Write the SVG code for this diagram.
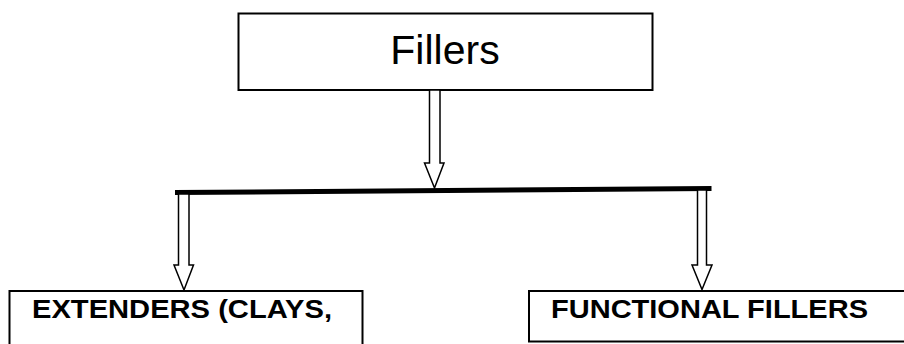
<svg xmlns="http://www.w3.org/2000/svg" width="904" height="344" viewBox="0 0 904 344">
<style>
.box{fill:#fff;stroke:#000;stroke-width:2}
.arr{fill:#fff;stroke:#000;stroke-width:1.5;stroke-linejoin:miter}
.t{font-family:"Liberation Sans",Arial,sans-serif;fill:#000}
.b{font-weight:bold;font-size:26px}
</style>
<rect width="904" height="344" fill="#fff"/>
<g id="node-fillers">
<rect class="box" x="238.5" y="13.5" width="414" height="76.5"/>
<text class="t" x="445" y="64" font-size="41" text-anchor="middle">Fillers</text>
</g>
<g id="node-extenders">
<rect class="box" x="9.5" y="291" width="353" height="70"/>
<text class="t b" x="32" y="318" textLength="300" lengthAdjust="spacingAndGlyphs">EXTENDERS (CLAYS,</text>
</g>
<g id="node-functional">
<rect class="box" x="529" y="291" width="400" height="50.5"/>
<text class="t b" x="551" y="318" textLength="317" lengthAdjust="spacingAndGlyphs">FUNCTIONAL FILLERS</text>
</g>
<g id="connectors">
<line x1="175" y1="192.5" x2="711.5" y2="188.5" stroke="#000" stroke-width="5"/>
<polygon class="arr" points="429.5,90 440,90 440,163 444,163 434.5,188 424.5,163 429.5,163"/>
<polygon class="arr" points="178.5,194 189,194 189,265 193.5,265 184,290 174,265 178.5,265"/>
<polygon class="arr" points="697.5,190 706.5,190 706.5,265 712,265 702,289.5 692,265 697.5,265"/>
</g>
</svg>
